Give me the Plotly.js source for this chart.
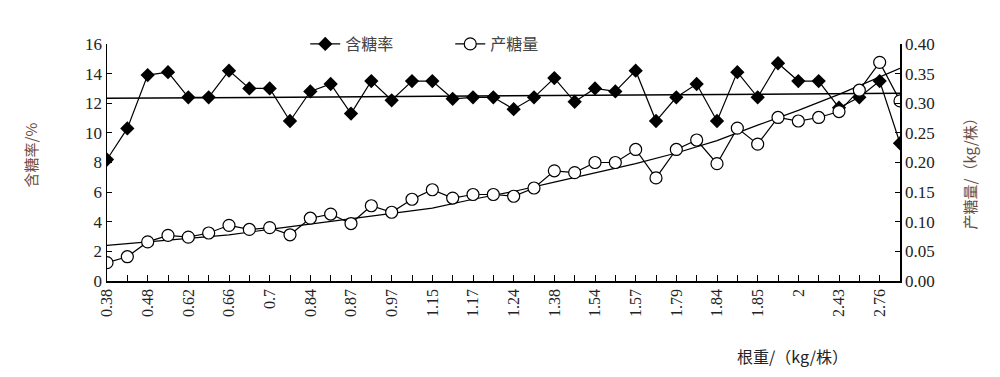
<!DOCTYPE html>
<html><head><meta charset="utf-8">
<script src="https://cdn.plot.ly/plotly-3.0.1.min.js"></script>
<style>html,body{margin:0;padding:0;background:#fff}#chart{width:1000px;height:377px}</style>
</head><body><div id="chart"></div>
<script>
// x categories (root weight, kg/plant); only every other category is labelled in the source
const xLabels = ['0.38','','0.48','','0.62','','0.66','','0.7','','0.84','','0.87','','0.97','','1.15','','1.17','',
                 '1.24','','1.38','','1.54','','1.57','','1.79','','1.84','','1.85','','2','','2.43','','2.76',''];
// 含糖率 (%)
const sugarContent = [8.2,10.3,13.9,14.1,12.4,12.4,14.2,13.0,13.0,10.8,12.8,13.3,11.3,13.5,12.2,13.5,13.5,12.3,12.4,12.4,
                      11.6,12.4,13.7,12.1,13.0,12.8,14.2,10.8,12.4,13.3,10.8,14.1,12.4,14.7,13.5,13.5,11.7,12.4,13.5,9.3];
// 产糖量 (kg/株)
const sugarYield = [0.031,0.041,0.066,0.077,0.074,0.081,0.094,0.087,0.090,0.078,0.106,0.113,0.097,0.127,0.116,0.138,0.154,0.140,0.146,0.146,
                    0.143,0.157,0.186,0.183,0.200,0.200,0.222,0.174,0.222,0.238,0.198,0.258,0.231,0.276,0.270,0.276,0.286,0.322,0.369,0.304];
// trend lines
const sugarTrendIdx = [0, 39];
const sugarTrendVal = [12.33, 12.67];
const yieldTrendIdx = [0,2,4,6,8,10,12,14,16,18,20,22,24,26,28,30,32,34,36,38,39];
const yieldTrendVal = [0.060,0.066,0.072,0.078,0.087,0.096,0.104,0.114,0.123,0.138,0.151,0.167,0.182,0.198,0.216,0.237,0.263,0.288,0.315,0.345,0.359];

const idx = xLabels.map((_, i) => i);
const serif = 'Liberation Serif, Times New Roman, serif';
const cjk = 'Noto Sans CJK SC, sans-serif';

const traces = [
  {x: sugarTrendIdx, y: sugarTrendVal, mode: 'lines', line: {color: '#000', width: 1.5}, showlegend: false, hoverinfo: 'skip'},
  {x: yieldTrendIdx, y: yieldTrendVal, yaxis: 'y2', mode: 'lines', line: {color: '#000', width: 1.2}, showlegend: false, hoverinfo: 'skip'},
  {x: idx, y: sugarContent, name: '含糖率', mode: 'lines+markers', line: {color: '#000', width: 1.2},
   marker: {symbol: 'diamond', size: 11, color: '#000'}},
  {x: idx, y: sugarYield, name: '产糖量', yaxis: 'y2', mode: 'lines+markers', line: {color: '#000', width: 1.2},
   marker: {symbol: 'circle', size: 12, color: '#fff', line: {color: '#000', width: 1.2}}}
];

const layout = {
  width: 1000, height: 377,
  margin: {l: 107, r: 100, t: 44, b: 96},
  paper_bgcolor: '#fff', plot_bgcolor: '#fff',
  showlegend: true,
  legend: {orientation: 'h', x: 0.25, xanchor: 'left', y: 1.0, yanchor: 'middle', entrywidth: 100, entrywidthmode: 'pixels',
           font: {family: cjk, size: 16, color: '#444'}, bgcolor: 'rgba(0,0,0,0)', tracegroupgap: 0},
  xaxis: {range: [0, 39], tickmode: 'array', tickvals: idx, ticktext: xLabels, tickangle: -90,
          ticks: 'inside', ticklen: 6, tickcolor: '#000', showline: true, linecolor: '#000', linewidth: 1.5,
          showgrid: false, zeroline: false, tickfont: {family: serif, size: 16, color: '#222'}},
  yaxis: {range: [0, 16], dtick: 2, ticks: 'inside', ticklen: 5, tickcolor: '#000', showline: true, linecolor: '#000', linewidth: 1.5,
          showgrid: false, zeroline: false, tickfont: {family: serif, size: 17, color: '#222'}},
  yaxis2: {range: [0, 0.4], dtick: 0.05, tickformat: '.2f', overlaying: 'y', side: 'right', ticks: 'inside', ticklen: 5, tickcolor: '#000',
           showline: true, linecolor: '#000', linewidth: 1.5, showgrid: false, zeroline: false,
           tickfont: {family: serif, size: 17, color: '#222'}},
  annotations: [
    {text: '含糖率/%', xref: 'paper', yref: 'paper', x: -0.097, xanchor: 'center', y: 0.53, yanchor: 'middle', textangle: -90, showarrow: false,
     font: {family: cjk, size: 15, color: '#6b4b3e'}},
    {text: '产糖量/（kg/株）', xref: 'paper', yref: 'paper', x: 1.088, xanchor: 'center', y: 0.47, yanchor: 'middle', textangle: -90, showarrow: false,
     font: {family: cjk, size: 15, color: '#6b4b3e'}},
    {text: '根重/（kg/株）', xref: 'paper', yref: 'paper', x: 0.864, xanchor: 'center', y: -0.315, yanchor: 'middle', showarrow: false,
     font: {family: cjk, size: 16, color: '#222'}}
  ]
};

Plotly.newPlot('chart', traces, layout, {staticPlot: true, displayModeBar: false});
</script></body></html>
